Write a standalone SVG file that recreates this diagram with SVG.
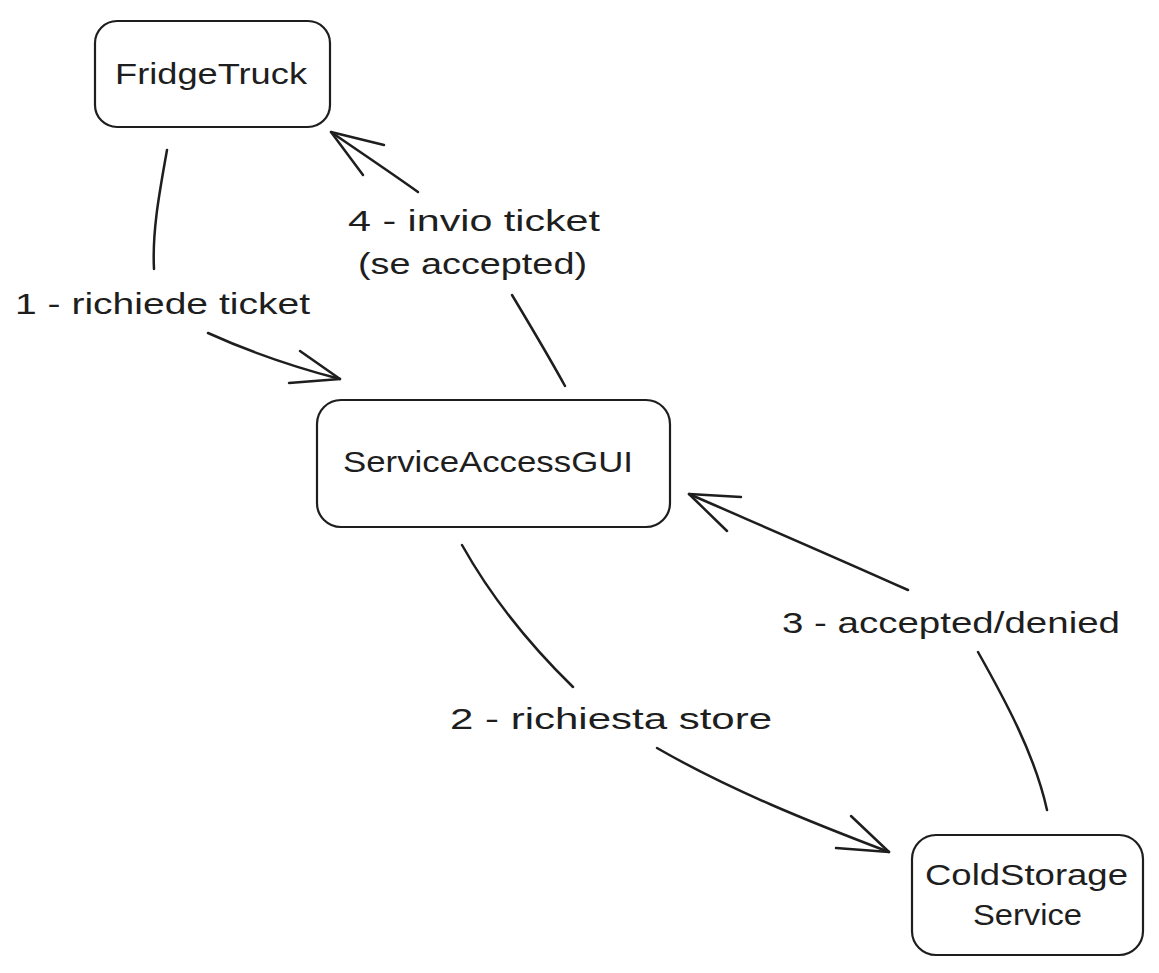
<svg xmlns="http://www.w3.org/2000/svg" width="1159" height="973" viewBox="0 0 1159 973">
<style>
.box{fill:#fff;stroke:#1e1e1e;stroke-width:2.2;}
.lbl{font-family:"Liberation Sans","DejaVu Sans",sans-serif;font-size:30px;fill:#1e1e1e;}
.ln{fill:none;stroke:#1e1e1e;stroke-width:2.5;stroke-linecap:round;stroke-linejoin:round;}
</style>
<rect width="1159" height="973" fill="#fff"/>
<g id="connectors">
  <g id="c1">
    <path class="ln" d="M167,150 C160,190 152,230 154,269"/>
    <path class="ln" d="M208,333 C250,352 290,366 340,379"/>
    <path class="ln" d="M300,351 L340,379 L289,383"/>
  </g>
  <g id="c4">
    <path class="ln" d="M565,386 C548,355 530,325 512,295"/>
    <path class="ln" d="M418,192 C390,172 360,152 331,132"/>
    <path class="ln" d="M384,145 L331,132 L363,175"/>
  </g>
  <g id="c2">
    <path class="ln" d="M462,545 C490,595 530,645 573,687"/>
    <path class="ln" d="M657,748 C730,790 810,822 889,852"/>
    <path class="ln" d="M851,816 L889,852 L836,848"/>
  </g>
  <g id="c3">
    <path class="ln" d="M1047,810 C1035,755 1005,700 978,652"/>
    <path class="ln" d="M908,590 C830,555 760,525 689,494"/>
    <path class="ln" d="M741,497 L689,494 L727,531"/>
  </g>
</g>
<g id="n-fridgetruck">
  <rect class="box" x="95" y="21" width="235" height="106" rx="22"/>
  <text class="lbl" x="115" y="84" textLength="192" lengthAdjust="spacingAndGlyphs">FridgeTruck</text>
</g>
<g id="n-serviceaccessgui">
  <rect class="box" x="317" y="400" width="353" height="127" rx="24"/>
  <text class="lbl" x="343" y="472" textLength="290" lengthAdjust="spacingAndGlyphs">ServiceAccessGUI</text>
</g>
<g id="n-coldstorage">
  <rect class="box" x="912" y="835" width="231" height="120" rx="24"/>
  <text class="lbl" x="925" y="885" textLength="203" lengthAdjust="spacingAndGlyphs">ColdStorage</text>
  <text class="lbl" x="973" y="925" textLength="109" lengthAdjust="spacingAndGlyphs">Service</text>
</g>
<g id="labels">
  <text class="lbl" x="15" y="314" textLength="295" lengthAdjust="spacingAndGlyphs">1 - richiede ticket</text>
  <text class="lbl" x="348" y="231" textLength="252" lengthAdjust="spacingAndGlyphs">4 - invio ticket</text>
  <text class="lbl" x="358" y="274" textLength="229" lengthAdjust="spacingAndGlyphs">(se accepted)</text>
  <text class="lbl" x="450" y="729" textLength="322" lengthAdjust="spacingAndGlyphs">2 - richiesta store</text>
  <text class="lbl" x="782" y="633" textLength="338" lengthAdjust="spacingAndGlyphs">3 - accepted/denied</text>
</g>
</svg>
